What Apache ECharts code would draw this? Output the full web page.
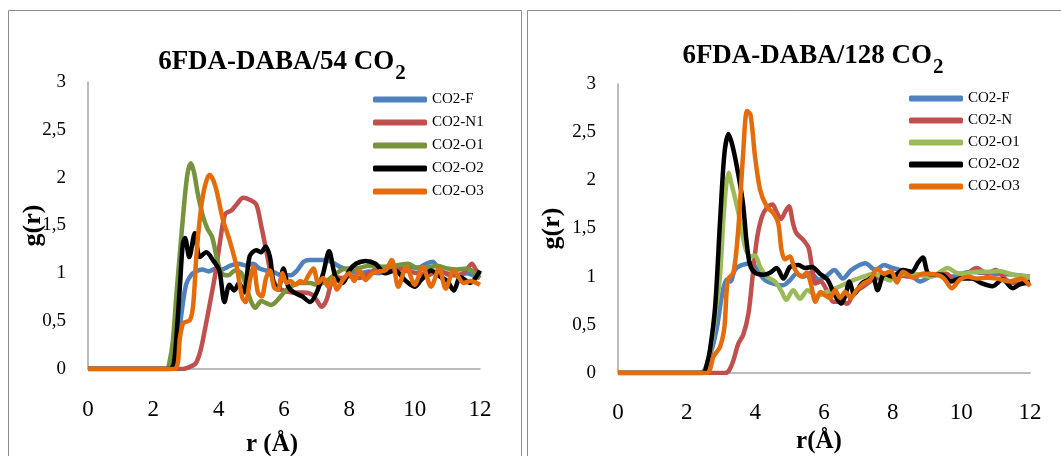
<!DOCTYPE html>
<html>
<head>
<meta charset="utf-8">
<script src="https://cdn.jsdelivr.net/npm/echarts@6/dist/echarts.min.js"></script>
<style>
html,body{margin:0;padding:0;background:#fff;}
#chart{width:1061px;height:456px;}
</style>
</head>
<body>
<div id="chart"></div>
<script>
// ---------- DATA (r in Å, g(r)) ----------
var xTicks = [0, 2, 4, 6, 8, 10, 12];
var yTicks = [0, 0.5, 1, 1.5, 2, 2.5, 3];

var leftTitle = '6FDA-DABA/54 CO';
var rightTitle = '6FDA-DABA/128 CO';
var leftNames = ['CO2-F', 'CO2-N1', 'CO2-O1', 'CO2-O2', 'CO2-O3'];
var rightNames = ['CO2-F', 'CO2-N', 'CO2-O1', 'CO2-O2', 'CO2-O3'];

// Left panel: 6FDA-DABA/54 CO2
var L_F = [[0,0],[2.55,0],[2.7,0.15],[2.85,0.55],[3.0,0.88],[3.15,0.98],[3.3,1.02],[3.5,1.04],[3.7,1.02],[3.9,1.05],[4.1,1.04],[4.35,1.08],[4.6,1.1],[4.85,1.08],[5.05,1.1],[5.25,1.05],[5.45,1.03],[5.65,1.02],[5.9,0.98],[6.2,0.98],[6.4,1.03],[6.6,1.12],[6.8,1.14],[7.2,1.14],[7.45,1.12],[7.7,1.07],[8.0,1.03],[8.3,1.0],[8.6,1.02],[8.9,1.0],[9.2,1.03],[9.5,1.05],[9.8,1.06],[10.1,1.06],[10.35,1.1],[10.55,1.12],[10.75,1.04],[11.0,0.99],[11.3,0.98],[11.6,1.0],[11.85,0.97],[12,0.95]];
var L_N1 = [[0,0],[2.7,0],[2.9,0],[3.1,0.02],[3.3,0.06],[3.45,0.2],[3.6,0.45],[3.75,0.72],[3.9,1.0],[4.05,1.35],[4.2,1.62],[4.4,1.66],[4.55,1.72],[4.75,1.79],[4.95,1.77],[5.15,1.72],[5.3,1.5],[5.45,1.25],[5.6,1.0],[5.8,0.85],[6.0,0.82],[6.3,0.8],[6.6,0.8],[6.85,0.78],[7.0,0.72],[7.15,0.65],[7.3,0.72],[7.45,0.9],[7.6,0.96],[7.8,0.95],[8.0,0.97],[8.3,0.95],[8.6,1.0],[8.9,1.05],[9.2,1.03],[9.5,1.05],[9.8,1.02],[10.1,1.0],[10.4,0.98],[10.7,1.02],[11.0,1.0],[11.3,0.98],[11.55,1.02],[11.75,1.1],[11.9,1.02],[12,0.98]];
var L_O1 = [[0,0],[2.4,0],[2.5,0.08],[2.6,0.3],[2.7,0.75],[2.82,1.24],[2.95,1.75],[3.05,2.05],[3.15,2.15],[3.25,2.05],[3.35,1.85],[3.5,1.62],[3.65,1.47],[3.8,1.38],[3.95,1.15],[4.1,1.0],[4.3,0.98],[4.5,1.03],[4.7,1.0],[4.85,0.85],[5.0,0.7],[5.12,0.64],[5.3,0.71],[5.45,0.69],[5.6,0.67],[5.8,0.72],[6.0,0.8],[6.2,0.86],[6.5,0.9],[6.8,0.9],[7.0,0.88],[7.3,0.92],[7.6,1.0],[7.9,1.05],[8.2,1.05],[8.6,1.08],[9.0,1.07],[9.4,1.08],[9.8,1.1],[10.1,1.05],[10.4,1.06],[10.7,1.08],[11.0,1.05],[11.3,1.04],[11.6,1.05],[11.85,1.0],[12,0.95]];
var L_O2 = [[0,0],[2.5,0],[2.62,0.05],[2.72,0.4],[2.82,0.9],[2.9,1.3],[2.97,1.37],[3.1,1.17],[3.27,1.42],[3.42,1.17],[3.62,1.22],[3.84,1.13],[4.02,1.03],[4.18,0.7],[4.33,0.88],[4.48,0.82],[4.62,0.9],[4.78,0.8],[4.95,1.18],[5.15,1.24],[5.3,1.22],[5.43,1.28],[5.57,1.17],[5.68,0.9],[5.82,0.83],[5.98,1.05],[6.13,0.86],[6.3,0.8],[6.55,0.76],[6.8,0.7],[7.0,0.8],[7.2,1.0],[7.38,1.23],[7.58,0.96],[7.8,0.9],[8.0,1.03],[8.2,1.1],[8.5,1.13],[8.8,1.1],[9.1,1.0],[9.4,1.03],[9.7,0.93],[10.0,0.86],[10.2,0.93],[10.5,1.03],[10.8,0.96],[11.0,0.92],[11.2,0.82],[11.4,0.96],[11.7,0.9],[12,1.03]];
var L_O3 = [[0,0],[2.63,0],[2.82,0.34],[2.92,0.48],[3.12,0.51],[3.22,0.67],[3.33,1.24],[3.48,1.73],[3.6,1.94],[3.72,2.03],[3.9,1.91],[4.13,1.56],[4.33,1.35],[4.55,1.07],[4.72,0.75],[4.82,0.7],[4.97,0.95],[5.07,1.07],[5.2,0.8],[5.32,0.76],[5.45,0.95],[5.57,1.03],[5.7,0.85],[5.82,0.83],[5.95,1.0],[6.08,0.9],[6.2,0.92],[6.35,0.88],[6.5,0.92],[6.6,0.9],[6.75,0.98],[6.9,1.05],[7.05,0.9],[7.2,0.95],[7.35,0.86],[7.5,0.95],[7.62,0.83],[7.8,0.93],[8.0,1.0],[8.15,0.92],[8.3,1.03],[8.5,0.93],[8.7,1.0],[8.9,1.02],[9.1,1.03],[9.3,1.14],[9.5,0.86],[9.75,1.07],[10.0,0.88],[10.25,1.07],[10.5,0.86],[10.75,1.05],[10.95,0.84],[11.2,1.03],[11.5,0.9],[11.7,0.92],[12,0.88]];

// Right panel: 6FDA-DABA/128 CO2
var R_F = [[0,0],[2.4,0],[2.55,0.05],[2.7,0.2],[2.87,0.45],[3.05,0.85],[3.17,0.97],[3.28,0.95],[3.4,1.07],[3.6,1.12],[3.9,1.14],[4.1,1.04],[4.3,0.96],[4.5,0.93],[4.8,0.91],[5.0,0.96],[5.2,1.03],[5.4,1.0],[5.6,1.04],[5.85,0.97],[6.05,1.0],[6.3,1.07],[6.55,0.98],[6.8,1.07],[7.2,1.14],[7.5,1.07],[7.75,1.12],[8.0,1.09],[8.3,1.06],[8.5,1.03],[8.8,0.95],[9.1,1.0],[9.4,1.02],[9.7,1.0],[10.0,1.03],[10.3,1.05],[10.6,1.04],[11.0,1.03],[11.5,1.02],[12,1.0]];
var R_N = [[0,0],[3.1,0],[3.22,0.02],[3.35,0.12],[3.5,0.3],[3.65,0.4],[3.8,0.62],[3.92,1.0],[4.05,1.4],[4.2,1.63],[4.35,1.72],[4.5,1.75],[4.62,1.67],[4.75,1.6],[4.88,1.68],[4.98,1.73],[5.1,1.55],[5.2,1.45],[5.4,1.38],[5.55,1.3],[5.65,1.1],[5.75,0.93],[5.9,0.95],[6.08,0.86],[6.27,0.74],[6.5,0.74],[6.68,0.72],[6.85,0.82],[7.15,0.9],[7.45,0.97],[7.75,1.0],[8.1,1.02],[8.5,1.0],[8.9,1.03],[9.2,1.02],[9.57,1.03],[9.77,0.97],[10.06,1.0],[10.45,1.09],[10.74,1.03],[11.0,1.07],[11.3,0.97],[11.6,0.93],[12,0.93]];
var R_O1 = [[0,0],[2.45,0],[2.55,0.05],[2.7,0.25],[2.85,0.65],[2.97,1.0],[3.07,1.6],[3.15,1.95],[3.22,2.08],[3.3,1.97],[3.42,1.8],[3.55,1.59],[3.7,1.31],[3.84,1.21],[3.99,1.22],[4.14,1.1],[4.33,1.0],[4.57,0.95],[4.76,0.85],[4.9,0.76],[5.1,0.86],[5.3,0.77],[5.52,0.86],[5.79,0.8],[6.08,0.84],[6.47,0.9],[6.76,0.95],[7.15,1.0],[7.44,1.03],[7.73,0.99],[7.92,0.96],[8.1,1.02],[8.6,1.03],[9.1,1.0],[9.3,1.03],[9.6,1.09],[9.85,1.04],[10.06,1.03],[10.45,1.05],[10.8,1.05],[11.1,1.06],[11.5,1.02],[12,1.0]];
var R_O2 = [[0,0],[2.48,0],[2.58,0.08],[2.68,0.24],[2.83,0.69],[2.97,1.56],[3.1,2.28],[3.22,2.48],[3.34,2.35],[3.5,2.07],[3.64,1.76],[3.74,1.38],[3.84,1.13],[3.99,1.04],[4.24,1.02],[4.43,1.04],[4.62,1.09],[4.82,0.98],[5.01,1.1],[5.26,1.12],[5.45,1.09],[5.65,1.1],[5.88,1.03],[6.1,0.97],[6.3,0.82],[6.5,0.72],[6.62,0.8],[6.74,0.95],[6.88,0.82],[7.1,0.93],[7.3,0.97],[7.42,1.0],[7.56,0.86],[7.76,1.03],[8.0,1.0],[8.3,1.07],[8.55,1.05],[8.75,1.15],[8.88,1.2],[9.05,1.03],[9.45,1.02],[9.7,0.95],[9.96,0.98],[10.3,0.98],[10.6,0.93],[10.9,0.9],[11.2,0.97],[11.5,0.88],[11.7,0.92],[12,0.95]];
var R_O3 = [[0,0],[2.58,0],[2.78,0.17],[2.97,0.27],[3.1,0.48],[3.2,0.97],[3.36,1.04],[3.5,1.48],[3.64,2.25],[3.76,2.72],[3.86,2.68],[3.99,2.25],[4.14,1.9],[4.33,1.73],[4.52,1.66],[4.67,1.55],[4.76,1.28],[4.86,1.18],[5.0,1.21],[5.16,1.07],[5.35,1.0],[5.5,1.04],[5.62,0.92],[5.75,0.74],[5.9,0.84],[6.05,0.8],[6.17,0.78],[6.32,0.86],[6.47,0.78],[6.62,0.84],[6.78,0.78],[6.95,0.86],[7.15,0.93],[7.35,0.97],[7.55,1.08],[7.75,1.03],[7.95,1.06],[8.12,0.94],[8.3,1.05],[8.6,0.99],[8.9,1.03],[9.3,1.02],[9.5,0.98],[9.72,0.88],[9.96,0.97],[10.2,1.0],[10.45,0.98],[10.75,0.99],[11.05,0.98],[11.4,0.95],[11.75,0.98],[12,0.9]];

var leftData = [L_F, L_N1, L_O1, L_O2, L_O3];
var rightData = [R_F, R_N, R_O1, R_O2, R_O3];
var leftColors = ['#4F81BD', '#C0504D', '#77933C', '#000000', '#E46C0A'];
var rightColors = ['#4F81BD', '#C0504D', '#9BBB59', '#000000', '#E46C0A'];

// ---------- CHART ----------
var FONT = 'Liberation Serif';
var axisGray = '#A6A6A6';

function xAxis(grid, name, pad, gap, margin) {
  return {
    type: 'value', gridIndex: grid, min: 0, max: 12, interval: 2,
    axisLine: {show: true, lineStyle: {color: axisGray, width: 1.5}},
    axisTick: {show: false}, splitLine: {show: false},
    axisLabel: {fontFamily: FONT, fontSize: 23, color: '#000', margin: margin,
      formatter: function (v) { return xTicks.indexOf(v) >= 0 ? String(v) : ''; }},
    name: name, nameLocation: 'middle', nameGap: gap, nameMoveOverlap: false,
    nameTextStyle: {fontFamily: FONT, fontSize: 25, fontWeight: 'bold', color: '#000', padding: pad}
  };
}
function yAxis(grid, gap) {
  return {
    type: 'value', gridIndex: grid, min: 0, max: 3, interval: 0.5,
    axisLine: {show: true, lineStyle: {color: axisGray, width: 1.5}},
    axisTick: {show: false}, splitLine: {show: false},
    axisLabel: {fontFamily: FONT, fontSize: 19, color: '#000', margin: 22,
      formatter: function (v) { return yTicks.indexOf(v) >= 0 ? String(v).replace('.', ',') : ''; }},
    name: 'g(r)', nameLocation: 'middle', nameGap: gap, nameRotate: 90, nameMoveOverlap: false,
    nameTextStyle: {fontFamily: FONT, fontSize: 26, fontWeight: 'bold', color: '#000'}
  };
}

var series = [];
leftNames.forEach(function (n, i) {
  series.push({name: 'L:' + n, type: 'line', xAxisIndex: 0, yAxisIndex: 0,
    data: leftData[i], smooth: 0.3, symbol: 'none', animation: false,
    lineStyle: {width: 4.5, color: leftColors[i]}, itemStyle: {color: leftColors[i]}});
});
rightNames.forEach(function (n, i) {
  series.push({name: 'R:' + n, type: 'line', xAxisIndex: 1, yAxisIndex: 1,
    data: rightData[i], smooth: 0.3, symbol: 'none', animation: false,
    lineStyle: {width: 4.5, color: rightColors[i]}, itemStyle: {color: rightColors[i]}});
});

function stripName(name) { return name.replace(/^[LR]:/, ''); }
var legendBase = {
  orient: 'vertical', itemWidth: 54, itemHeight: 6, padding: 0, selectedMode: false,
  icon: 'roundRect',
  formatter: stripName,
  textStyle: {fontFamily: FONT, fontSize: 15, color: '#000'}
};

var titleRich = function (size) {
  return {
    fontFamily: FONT, fontSize: size, fontWeight: 'bold', color: '#000',
    rich: {sub: {fontFamily: FONT, fontSize: 21, fontWeight: 'bold', color: '#000', padding: [22, 0, 0, 1]}}
  };
};

var chart = echarts.init(document.getElementById('chart'), null, {renderer: 'canvas'});
chart.setOption({
  animation: false,
  backgroundColor: '#fff',
  title: [
    {text: leftTitle + '{sub|2}', left: 282, top: 41, textAlign: 'center', padding: 0, textStyle: titleRich(27)},
    {text: rightTitle + '{sub|2}', left: 813, top: 35, textAlign: 'center', padding: 0, textStyle: titleRich(27)}
  ],
  graphic: [
    {type: 'rect', shape: {x: 8.5, y: 10.5, width: 513, height: 470}, style: {fill: 'none', stroke: '#8C8C8C', lineWidth: 1}, silent: true},
    {type: 'rect', shape: {x: 527.5, y: 10.5, width: 560, height: 470}, style: {fill: 'none', stroke: '#8C8C8C', lineWidth: 1}, silent: true}
  ],
  grid: [
    {left: 88, top: 82, width: 392, height: 287, outerBoundsMode: 'none', containLabel: false},
    {left: 618, top: 84, width: 412, height: 289, outerBoundsMode: 'none', containLabel: false}
  ],
  xAxis: [xAxis(0, 'r (Å)', [0, 24, 0, 0], 63, 29), xAxis(1, 'r(Å)', [0, 10, 0, 0], 56, 28)],
  yAxis: [yAxis(0, 42), yAxis(1, 53)],
  legend: [
    Object.assign({}, legendBase, {left: 373, top: 92, itemGap: 8,
      data: leftNames.map(function (n) { return 'L:' + n; })}),
    Object.assign({}, legendBase, {left: 909, top: 91, itemGap: 7,
      data: rightNames.map(function (n) { return 'R:' + n; })})
  ],
  series: series
});
</script>
</body>
</html>
